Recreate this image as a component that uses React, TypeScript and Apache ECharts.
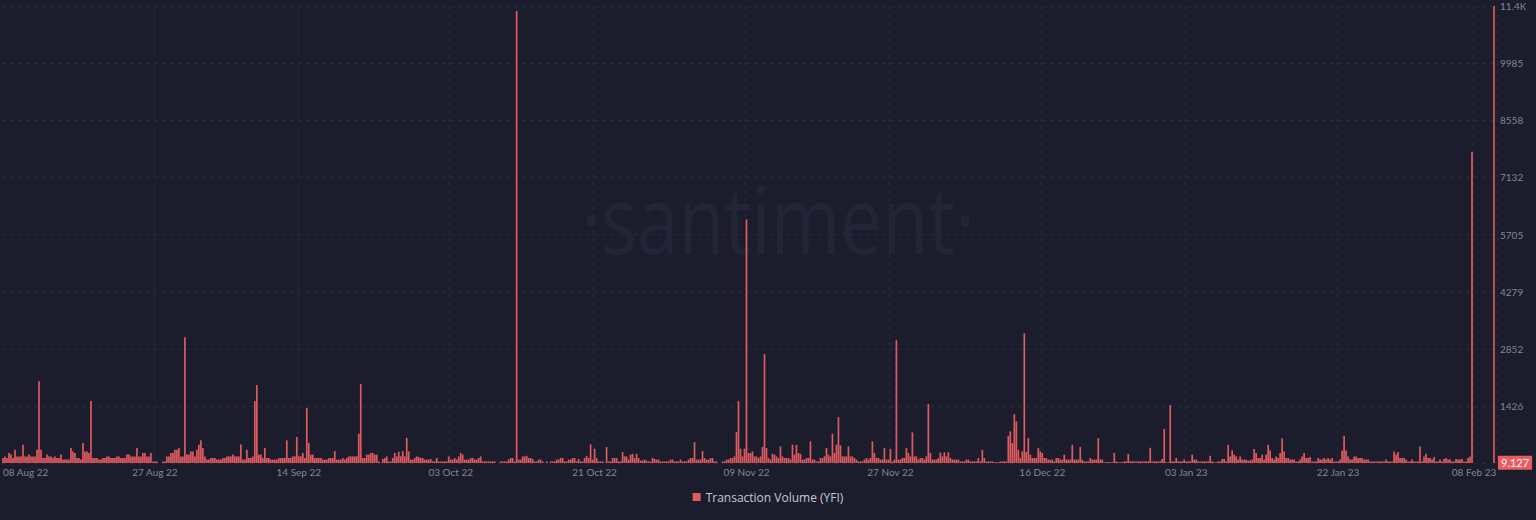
import React, { useEffect, useRef } from "react";
import * as echarts from "echarts";

// Transaction Volume (YFI), 6-hour buckets starting 08 Aug 2022 00:00 UTC
const aug = [
  125, 165, 125, 250, 210, 125, 330, 165, 165, 165,
  455, 165, 165, 210, 165, 165, 165, 330, 2040, 330,
  125, 125, 210, 165, 165, 125, 165, 125, 125, 210,
  85, 85, 85, 85, 375, 290, 250, 125, 125, 85,
  500, 290, 290, 250, 1545, 125, 125, 125, 85, 85,
  125, 125, 165, 165, 125, 125, 125, 165, 165, 125,
  125, 125, 210, 210, 165, 165, 165, 375, 165, 165,
  250, 250, 165, 165, 250, 40, 40, 40, 0, 0,
  40, 40, 165, 165, 250, 250, 330, 330, 375, 165,
  165, 3140, 210, 210, 290, 290,
];
const sep = [
  165, 330, 455, 565,
  375, 165, 85, 85, 125, 125, 125, 85, 85, 85,
  125, 125, 165, 165, 165, 210, 165, 165, 165, 465,
  85, 85, 330, 125, 125, 165, 1545, 1945, 210, 210,
  125, 375, 125, 125, 85, 85, 85, 85, 125, 125,
  125, 125, 565, 125, 125, 165, 165, 650, 165, 165,
  250, 125, 1370, 500, 210, 210, 125, 125, 125, 125,
  85, 85, 85, 125, 125, 125, 300, 85, 85, 85,
  125, 85, 125, 165, 165, 165, 165, 165, 730, 1970,
  125, 125, 210, 210, 250, 250, 210, 210, 40, 0,
  100, 125, 165, 40, 40, 125, 250, 165, 280, 165,
  300, 165, 630, 290, 85, 85, 125, 165, 150, 125,
  125, 85, 85, 85, 100, 40,
];
const oct = [
  40, 125, 40, 40, 40, 40, 40, 165, 85, 85,
  125, 85, 165, 250, 210, 85, 85, 85, 125, 125,
  85, 85, 125, 165, 40, 40, 40, 40, 40, 40,
  40, 0, 0, 40, 40, 40, 40, 85, 125, 125,
  40, 11286, 85, 85, 165, 165, 180, 125, 125, 100,
  40, 40, 85, 85, 40, 0, 40, 0, 40, 40,
  40, 85, 85, 125, 125, 40, 40, 85, 85, 125,
  125, 40, 100, 40, 40, 125, 180, 125, 465, 85,
  355, 125, 40, 40, 40, 0, 400, 40, 40, 125,
  125, 125, 40, 40, 275, 165, 165, 85, 210, 230,
  125, 230, 125, 60, 60, 85, 60, 40, 40, 125,
  100, 85, 85, 40, 40, 40, 40, 40, 85, 85,
  40, 40, 40, 85,
];
const nov = [
  40, 40, 40, 85, 125, 125, 520, 85, 85, 85,
  300, 125, 85, 85, 125, 125, 40, 40, 0, 0,
  40, 40, 85, 85, 125, 125, 165, 772, 1545, 355,
  165, 355, 6080, 250, 250, 290, 165, 165, 125, 165,
  400, 2715, 375, 125, 85, 230, 210, 165, 125, 415,
  165, 125, 125, 125, 85, 455, 210, 450, 250, 230,
  85, 85, 125, 125, 540, 85, 85, 40, 40, 125,
  125, 165, 375, 210, 165, 730, 250, 455, 1146, 440,
  165, 165, 165, 415, 165, 165, 125, 85, 40, 40,
  40, 85, 125, 85, 125, 540, 250, 125, 125, 85,
  85, 375, 85, 85, 350, 40, 85, 3065, 85, 85,
  125, 125, 375, 250, 165, 765, 165, 165, 85, 125,
];
const dec = [
  125, 85, 165, 1470, 250, 85, 85, 85, 125, 265,
  165, 265, 165, 265, 125, 85, 85, 85, 85, 40,
  40, 40, 85, 85, 40, 40, 40, 40, 125, 40,
  330, 125, 40, 40, 40, 40, 20, 20, 20, 40,
  40, 40, 40, 680, 790, 500, 1220, 1040, 330, 125,
  290, 3240, 275, 620, 210, 125, 125, 125, 375, 290,
  250, 125, 125, 85, 85, 85, 40, 125, 125, 85,
  85, 210, 85, 85, 85, 455, 85, 85, 85, 400,
  85, 40, 40, 40, 125, 85, 85, 85, 620, 85,
  85, 20, 20, 20, 20, 20, 250, 40, 20, 20,
  20, 40, 40, 230, 40, 40, 40, 40, 40, 40,
  40, 40, 40, 40, 380, 40, 40, 40, 40, 40,
  100, 847, 20, 20,
];
const jan = [
  1445, 40, 40, 125, 40, 40, 40, 85, 40, 40,
  40, 210, 85, 85, 40, 40, 40, 40, 40, 40,
  180, 40, 20, 20, 40, 40, 100, 100, 40, 455,
  165, 315, 210, 165, 85, 165, 85, 85, 85, 60,
  60, 85, 350, 250, 125, 125, 210, 85, 210, 455,
  315, 125, 85, 165, 125, 250, 620, 290, 125, 125,
  85, 85, 85, 40, 40, 85, 165, 250, 125, 125,
  150, 40, 40, 40, 125, 85, 85, 125, 85, 125,
  85, 125, 40, 40, 40, 85, 315, 680, 315, 165,
  85, 85, 165, 165, 125, 125, 125, 85, 85, 85,
  40, 40, 40, 40, 40, 40, 40, 40, 85, 40,
  40, 40, 290, 210, 275, 125, 125, 125, 85, 40,
  40, 85, 40, 40,
];
const feb = [
  40, 415, 40, 165, 230, 125, 125, 85, 150, 40,
  40, 85, 40, 100, 125, 85, 85, 40, 40, 100,
  85, 85, 100, 40, 40, 125, 165, 7770, 2, 1,
  1, 2, 1, 1, 2, 1, 1, 2, 11411, 9.127,
];

const seriesName = "Transaction Volume (YFI)";
const lastValueText = "9.127";
const yMax = 11411;
const yTickLabels = ["0", "1426", "2852", "4279", "5705", "7132", "8558", "9985", "11.4K"];
const xTickLabels = [
  "08 Aug 22", "27 Aug 22", "14 Sep 22", "03 Oct 22", "21 Oct 22", "09 Nov 22",
  "27 Nov 22", "16 Dec 22", "03 Jan 23", "22 Jan 23", "08 Feb 23",
];
const MONTHS = ["Jan", "Feb", "Mar", "Apr", "May", "Jun", "Jul", "Aug", "Sep", "Oct", "Nov", "Dec"];
const startUTC = Date.UTC(2022, 7, 8);
const stepHours = 6;

const values = [...aug, ...sep, ...oct, ...nov, ...dec, ...jan, ...feb];

function fmtDay(d: Date) {
  return `${String(d.getUTCDate()).padStart(2, "0")} ${MONTHS[d.getUTCMonth()]} ${String(d.getUTCFullYear()).slice(2)}`;
}
const categories = values.map((_, i) => {
  const d = new Date(startUTC + i * stepHours * 3600 * 1000);
  return `${fmtDay(d)}|${d.getUTCHours()}`;
});
const isTick = (i: number) => {
  const c = categories[i];
  if (!c) return false;
  const [day, h] = c.split("|");
  return h === "0" && xTickLabels.includes(day);
};

const BG = "#1b1d2c";
const GRIDC = "#262a3c";
const LABELC = "#80859c";
const RED = "#e05a5e";

export default function App() {
  const ref = useRef<HTMLDivElement>(null);
  useEffect(() => {
    document.body.style.margin = "0";
    const chart = echarts.init(ref.current!, undefined, { renderer: "svg" });
    const step = yMax / 8;
    chart.setOption({
      animation: false,
      backgroundColor: BG,
      grid: { left: 0, right: 39, top: 6, bottom: 57 },
      xAxis: {
        type: "category",
        data: categories,
        boundaryGap: true,
        axisLine: { show: false },
        axisTick: { show: false },
        axisLabel: {
          interval: (i: number) => isTick(i),
          formatter: (v: string) => v.split("|")[0],
          color: LABELC,
          fontSize: 10,
          fontFamily: "Lato",
          margin: 4,
          alignMinLabel: "left",
        },
        splitLine: {
          show: true,
          interval: (i: number) => isTick(i) && i > 0,
          lineStyle: { color: GRIDC, type: [4, 4], width: 1 },
        },
      },
      yAxis: {
        type: "value",
        position: "right",
        min: 0,
        max: yMax,
        interval: step,
        axisLine: { show: false },
        axisTick: { show: false },
        axisLabel: {
          showMinLabel: false,
          formatter: (v: number) => yTickLabels[Math.round(v / step)] ?? "",
          color: LABELC,
          fontSize: 10,
          lineHeight: 10,
          fontFamily: "Lato",
          margin: 3,
        },
        splitLine: { lineStyle: { color: GRIDC, type: [4, 4], width: 1 } },
      },
      legend: {
        bottom: 12,
        left: "center",
        icon: "rect",
        itemWidth: 8,
        itemHeight: 8,
        itemGap: 10,
        textStyle: { color: "#c6c9d6", fontSize: 12, fontFamily: "Open Sans" },
        data: [seriesName],
      },
      graphic: [
        {
          type: "text",
          x: 778,
          y: 218,
          z: 0,
          scaleX: 0.8,
          silent: true,
          style: {
            text: "·santiment·",
            font: '400 94px "Open Sans"',
            fill: "#222538",
            textAlign: "center",
            textVerticalAlign: "middle",
          },
        },
      ],
      series: [
        {
          type: "bar",
          name: seriesName,
          data: values,
          z: 3,
          barCategoryGap: "15%",
          itemStyle: { color: RED },
          markLine: {
            silent: true,
            symbol: ["none", "none"],
            lineStyle: { color: "rgba(0,0,0,0)", width: 0 },
            data: [{ yAxis: values[values.length - 1] }],
            label: {
              show: true,
              position: "end",
              formatter: lastValueText,
              color: "#ffffff",
              backgroundColor: "#ec5b60",
              padding: [2, 3, 1, 3],
              fontSize: 11,
              fontFamily: "Lato",
              distance: 1,
            },
          },
        },
      ],
    });
    return () => chart.dispose();
  }, []);
  return <div ref={ref} style={{ position: "fixed", left: 0, top: 0, width: 1536, height: 520 }} />;
}
